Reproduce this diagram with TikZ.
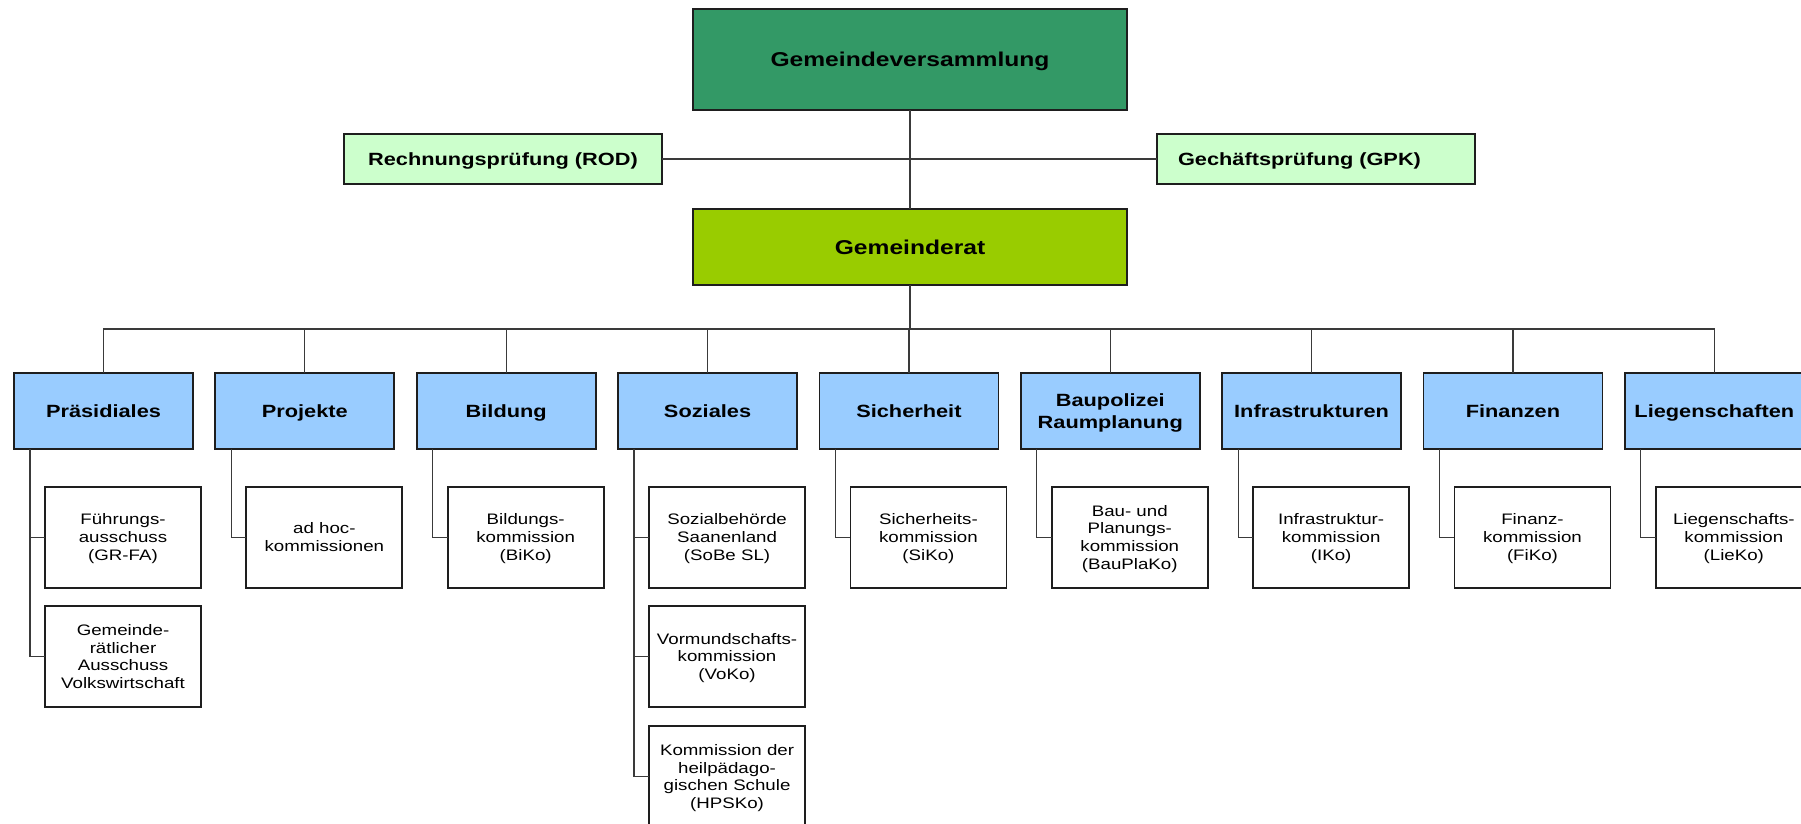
\documentclass[tikz,border=0pt]{standalone}
\usepackage{fontspec}
\setmainfont{Liberation Sans}[FakeStretch=1.23]
\definecolor{gvgreen}{HTML}{339966}
\definecolor{grgreen}{HTML}{99CC00}
\definecolor{pale}{HTML}{CCFFCC}
\definecolor{dept}{HTML}{99CCFF}
\definecolor{edge}{HTML}{1E1E1E}
\definecolor{conn}{HTML}{3A3A3A}
\newcommand\gcap{\rule{0pt}{14.3pt}}
\newcommand\bcap{\rule{0pt}{12.7pt}}
\newcommand\rcap{\rule{0pt}{10.9pt}}
\newcommand\sm[1]{\smash{#1}}
\tikzset{
  box/.style={draw=edge, line width=1.8pt, inner sep=0pt, outer sep=0pt, anchor=north west, align=center},
  boldtxt/.style={font=\fontsize{17.7}{21.5}\selectfont\bfseries},
  bigtxt/.style={font=\fontsize{20}{24}\selectfont\bfseries},
  top/.style={box, bigtxt, minimum width=434pt, minimum height=101pt},
  gr/.style={box, bigtxt, fill=grgreen, minimum width=434pt, minimum height=76pt},
  audit/.style={box, boldtxt, fill=pale, minimum width=318pt, minimum height=50pt},
  deptbox/.style={box, boldtxt, fill=dept, minimum width=179pt, minimum height=76pt},
  subbox/.style={box, fill=white, font=\fontsize{15.2}{17.7}\selectfont, minimum width=156pt, minimum height=101pt},
  link/.style={draw=conn, line width=1.2pt}
}
\begin{document}
\begin{tikzpicture}[x=1pt, y=-1pt]
\useasboundingbox (0,0) rectangle (1801,823);
\fill[white] (0,0) rectangle (1801,823);

% top level
\node[top, fill=gvgreen] (gv) at (693,9) {\gcap\sm{Gemeindeversammlung}};
\node[audit] (rod) at (344,134) {\bcap\sm{Rechnungsprüfung (ROD)}};
\node[audit, text width=318pt, align=left] (gpk) at (1157,134) {\hspace*{21pt}\bcap\sm{Gechäftsprüfung (GPK)}};
\node[gr] (gr) at (693,209) {\gcap\sm{Gemeinderat}};

\draw[link] (gv.south) -- (gr.north);
\draw[link] (rod.east) -- (gpk.west);

% departments
\foreach \i/\name/\lab in {0/b1/Präsidiales, 1/b2/Projekte, 2/b3/Bildung, 3/b4/Soziales, 4/b5/Sicherheit, 6/b7/Infrastrukturen, 7/b8/Finanzen, 8/b9/Liegenschaften}{
  \node[deptbox] (\name) at ({103.5+201.35*\i-89.5},373) {\bcap\sm{\lab}};
}
\node[deptbox] (b6) at ({103.5+201.35*5-89.5},373) {\bcap\sm{Baupolizei}\\\sm{Raumplanung}};

\coordinate (bus) at (gr.south |- 0,329);
\draw[link] (gr.south) -- (bus);
\draw[link] (b1.north) |- (bus) -| (b9.north);
\foreach \n in {b2,b3,b4,b5,b6,b7,b8}{
  \draw[link] (\n.north) -- (\n.north |- bus);
}

% sub commissions
\newcommand{\subx}[1]{{103.5+201.35*#1-58.5}}
\node[subbox] (s1a) at (\subx{0},486.7) {\rcap\sm{Führungs-}\\\sm{ausschuss}\\\sm{(GR-FA)}};
\node[subbox] (s1b) at (\subx{0},606) {\rcap\sm{Gemeinde-}\\\sm{rätlicher}\\\sm{Ausschuss}\\\sm{Volkswirtschaft}};
\node[subbox] (s2a) at (\subx{1},486.7) {\rcap\sm{ad hoc-}\\\sm{kommissionen}};
\node[subbox] (s3a) at (\subx{2},486.7) {\rcap\sm{Bildungs-}\\\sm{kommission}\\\sm{(BiKo)}};
\node[subbox] (s4a) at (\subx{3},486.7) {\rcap\sm{Sozialbehörde}\\\sm{Saanenland}\\\sm{(SoBe SL)}};
\node[subbox] (s4b) at (\subx{3},606) {\rcap\sm{Vormundschafts-}\\\sm{kommission}\\\sm{(VoKo)}};
\node[subbox] (s4c) at (\subx{3},726) {\rcap\sm{Kommission der}\\\sm{heilpädago-}\\\sm{gischen Schule}\\\sm{(HPSKo)}};
\node[subbox] (s5a) at (\subx{4},486.7) {\rcap\sm{Sicherheits-}\\\sm{kommission}\\\sm{(SiKo)}};
\node[subbox] (s6a) at (\subx{5},486.7) {\rcap\sm{Bau- und}\\\sm{Planungs-}\\\sm{kommission}\\\sm{(BauPlaKo)}};
\node[subbox] (s7a) at (\subx{6},486.7) {\rcap\sm{Infrastruktur-}\\\sm{kommission}\\\sm{(IKo)}};
\node[subbox] (s8a) at (\subx{7},486.7) {\rcap\sm{Finanz-}\\\sm{kommission}\\\sm{(FiKo)}};
\node[subbox] (s9a) at (\subx{8},486.7) {\rcap\sm{Liegenschafts-}\\\sm{kommission}\\\sm{(LieKo)}};

\draw[link] ([xshift=16pt]b1.south west) |- (s1a.west);
\draw[link] ([xshift=16pt]b1.south west) |- (s1b.west);
\draw[link] ([xshift=16pt]b4.south west) |- (s4a.west);
\draw[link] ([xshift=16pt]b4.south west) |- (s4b.west);
\draw[link] ([xshift=16pt]b4.south west) |- (s4c.west);
\foreach \b/\s in {b2/s2a, b3/s3a, b5/s5a, b6/s6a, b7/s7a, b8/s8a, b9/s9a}{
  \draw[link] ([xshift=16pt]\b.south west) |- (\s.west);
}
\end{tikzpicture}
\end{document}
